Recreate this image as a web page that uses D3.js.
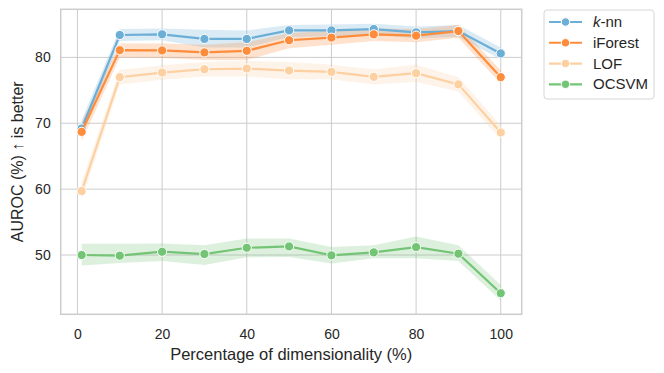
<!DOCTYPE html>
<html>
<head>
<meta charset="utf-8">
<script src="https://cdn.jsdelivr.net/npm/d3@7"></script>
<style>
  body { margin: 0; background: #fff; }
  svg { display: block; font-family: "Liberation Sans", Arial, sans-serif; }
</style>
</head>
<body>
<svg id="chart" width="664" height="373"></svg>
<script>
// x positions (percentage of dimensionality)
var xs = [1, 10, 20, 30, 40, 50, 60, 70, 80, 90, 100]

var knn   = [69.2, 83.4, 83.5, 82.8, 82.8, 84.1, 84.1, 84.3, 83.8, 84.0, 80.6]
var knnLo = [67.8, 82.5, 82.6, 81.5, 81.5, 83.1, 83.2, 83.4, 82.9, 83.1, 79.7]
var knnHi = [70.5, 84.3, 84.4, 84.2, 84.1, 84.9, 85.0, 85.1, 84.7, 84.9, 81.5]

var iforest = [68.7, 81.1, 81.05, 80.75, 81.0, 82.6, 83.0, 83.5, 83.3, 84.0, 77.0]
var ifLo    = [67.3, 80.0, 79.9, 79.6, 79.6, 81.4, 81.9, 82.5, 82.3, 83.0, 76.0]
var ifHi    = [70.1, 82.1, 82.1, 81.9, 82.3, 83.7, 84.0, 84.4, 84.3, 84.9, 78.0]

var lof   = [59.7, 77.0, 77.7, 78.2, 78.3, 78.0, 77.8, 77.05, 77.6, 75.9, 68.6]
var lofLo = [58.4, 75.9, 76.6, 77.1, 77.1, 76.7, 76.7, 75.9, 76.3, 74.8, 67.5]
var lofHi = [61.0, 78.1, 78.8, 79.3, 79.5, 79.3, 78.9, 78.2, 78.9, 77.0, 69.7]

var ocsvm = [50.0, 49.9, 50.5, 50.15, 51.1, 51.3, 49.95, 50.4, 51.2, 50.2, 44.2]
var ocLo  = [48.4, 48.8, 49.1, 48.5, 49.65, 49.7, 48.7, 49.5, 49.5, 49.1, 43.1]
var ocHi  = [51.7, 51.7, 51.75, 51.5, 52.5, 52.5, 51.2, 51.5, 52.8, 51.5, 45.45]

var xTicks = [0, 20, 40, 60, 80, 100]
var yTicks = [50, 60, 70, 80]

var seriesNames = ["k-nn", "iForest", "LOF", "OCSVM"]
var colors = ["#6baed6", "#fd8d3c", "#fdd0a2", "#74c476"]

var series = [
  { name: seriesNames[0], y: knn, lo: knnLo, hi: knnHi, color: colors[0] },
  { name: seriesNames[1], y: iforest, lo: ifLo, hi: ifHi, color: colors[1] },
  { name: seriesNames[2], y: lof, lo: lofLo, hi: lofHi, color: colors[2] },
  { name: seriesNames[3], y: ocsvm, lo: ocLo, hi: ocHi, color: colors[3] }
]

var svg = d3.select("#chart")
var pLeft = 60.7, pRight = 521.7, pTop = 9.3, pBottom = 314.3

var x = d3.scaleLinear().domain([-3.95, 104.95]).range([pLeft, pRight])
var y = d3.scaleLinear().domain([41.0, 87.3]).range([pBottom, pTop])

// grid
svg.append("g").selectAll("line")
   .data(xTicks).enter().append("line")
   .attr("x1", d => x(d)).attr("x2", d => x(d))
   .attr("y1", pTop).attr("y2", pBottom)
   .attr("stroke", "#cccccc").attr("stroke-width", 1)
svg.append("g").selectAll("line")
   .data(yTicks).enter().append("line")
   .attr("x1", pLeft).attr("x2", pRight)
   .attr("y1", d => y(d)).attr("y2", d => y(d))
   .attr("stroke", "#cccccc").attr("stroke-width", 1)

// axes (labels only, seaborn whitegrid has no tick marks)
var xAxis = svg.append("g")
   .attr("transform", `translate(0,${pBottom})`)
   .call(d3.axisBottom(x).tickValues(xTicks).tickSize(0).tickPadding(15))
var yAxis = svg.append("g")
   .attr("transform", `translate(${pLeft},0)`)
   .call(d3.axisLeft(y).tickValues(yTicks).tickSize(0).tickPadding(10))
xAxis.select(".domain").remove()
yAxis.select(".domain").remove()
svg.selectAll(".tick text").attr("font-size", 14).attr("fill", "#262626")
   .attr("font-family", "Liberation Sans, Arial, sans-serif")

// bands + lines
var area = d3.area()
   .x((d, i) => x(xs[i]))
   .y0(d => y(d[0]))
   .y1(d => y(d[1]))
var line = d3.line()
   .x((d, i) => x(xs[i]))
   .y(d => y(d))

series.forEach(function(s) {
  var band = s.lo.map((v, i) => [v, s.hi[i]])
  svg.append("path")
     .attr("d", area(band))
     .attr("fill", s.color)
     .attr("fill-opacity", 0.25)
     .attr("stroke", "none")
})

series.forEach(function(s) {
  svg.append("path")
     .attr("d", line(s.y))
     .attr("fill", "none")
     .attr("stroke", s.color)
     .attr("stroke-width", 2.2)
  svg.append("g").selectAll("circle")
     .data(s.y).enter().append("circle")
     .attr("cx", (d, i) => x(xs[i]))
     .attr("cy", d => y(d))
     .attr("r", 4.6)
     .attr("fill", s.color)
     .attr("stroke", "white")
     .attr("stroke-width", 1)
})

// frame
svg.append("rect")
   .attr("x", pLeft).attr("y", pTop)
   .attr("width", pRight - pLeft).attr("height", pBottom - pTop)
   .attr("fill", "none").attr("stroke", "#cccccc").attr("stroke-width", 1.5)

// axis titles
svg.append("text")
   .attr("x", (pLeft + pRight) / 2).attr("y", 360)
   .attr("text-anchor", "middle")
   .attr("font-size", 16.5).attr("fill", "#262626")
   .text("Percentage of dimensionality (%)")
svg.append("text")
   .attr("transform", `translate(23,${(pTop + pBottom) / 2}) rotate(-90)`)
   .attr("text-anchor", "middle")
   .attr("font-size", 16).attr("fill", "#262626")
   .text("AUROC (%) \u2191 is better")

// legend
var legend = svg.append("g")
legend.append("rect")
   .attr("x", 544).attr("y", 10).attr("width", 110).attr("height", 89)
   .attr("rx", 3).attr("fill", "white").attr("stroke", "#d6d6d6").attr("stroke-width", 1)

var ly = d3.scaleLinear().domain([0, 3]).range([22, 84.3])
series.forEach(function(s, i) {
  var g = legend.append("g").attr("transform", `translate(0,${ly(i)})`)
  g.append("line").attr("x1", 549).attr("x2", 582).attr("y1", 0).attr("y2", 0)
   .attr("stroke", s.color).attr("stroke-width", 2.2)
  g.append("circle").attr("cx", 565.5).attr("cy", 0).attr("r", 4.2)
   .attr("fill", s.color).attr("stroke", "white").attr("stroke-width", 1)
  var t = g.append("text").attr("x", 593).attr("y", 5)
   .attr("font-size", 15).attr("fill", "#262626")
  if (s.name === "k-nn") {
    t.append("tspan").attr("font-style", "italic").text("k")
    t.append("tspan").text("-nn")
  } else {
    t.text(s.name)
  }
})
</script>
</body>
</html>
